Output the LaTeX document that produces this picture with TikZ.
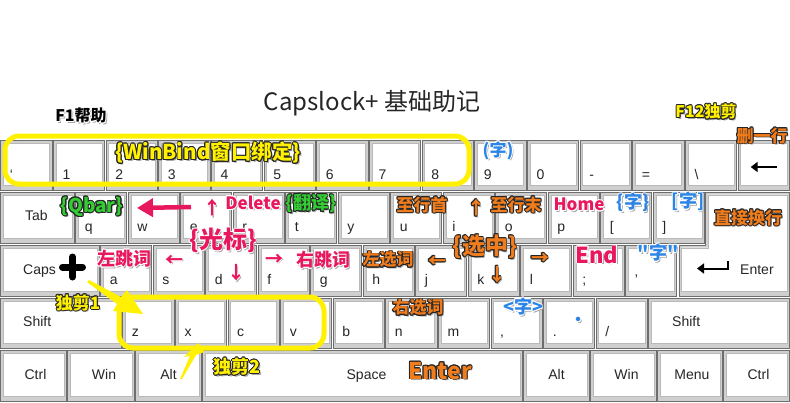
\documentclass[tikz,border=0pt]{standalone}
\usepackage{fontspec}
\setmainfont{Liberation Sans}
\newfontfamily\cjk{Noto Sans CJK SC}
\usetikzlibrary{arrows.meta,calc,positioning}

\definecolor{hlyellow}{HTML}{FFF100}
\definecolor{notered}{HTML}{E8185E}
\definecolor{noteorange}{HTML}{F07C1C}
\definecolor{notegreen}{HTML}{33CC33}
\definecolor{noteblue}{HTML}{2C84E6}
\definecolor{keyedge}{HTML}{6E6E6E}
\definecolor{keyrim}{HTML}{CFCFCF}

% text with a ring round it and a soft shadow
\newcommand\halo[3]{%
  \leavevmode
  \rlap{\kern1.6pt\raisebox{-1.6pt}{\textcolor{black!35}{#3}}}%
  \foreach \haloang in {0,30,...,330}{%
    \pgfmathsetlengthmacro\halox{0.9pt*cos(\haloang)}%
    \pgfmathsetlengthmacro\haloy{0.9pt*sin(\haloang)}%
    \rlap{\kern\halox\raisebox{\haloy}{\textcolor{#1}{#3}}}}%
  \textcolor{#2}{#3}}
\newcommand\darkring[2]{\halo{black!85}{#1}{#2}}
\newcommand\whitering[2]{\halo{white}{#1}{#2}}

% one key: name, left, top, right, bottom
\newcommand\keyat[5]{%
  \node[keycap, minimum width={(#4-#2-1.5)*1pt}, minimum height={(#5-#3-1.5)*1pt}]
    (#1) at ({(#2+#4)/2},{(#3+#5)/2}) {};}

\tikzset{
  keycap/.style={draw=keyedge, fill=keyrim, line width=0.6pt, inner sep=0pt, outer sep=0pt,
    path picture={\draw[fill=white, draw=gray!55, line width=0.4pt]
      ([shift={(2.5pt,5pt)}]path picture bounding box.south west) rectangle
      ([shift={(-2.5pt,-2pt)}]path picture bounding box.north east);}},
  keylbl/.style={font=\fontsize{14}{14}\selectfont, text=black!85, inner sep=0pt},
  note/.style={inner sep=0pt, font=\cjk\bfseries\fontsize{#1}{#1}\selectfont},
  note/.default=17,
  hlbox/.style={draw=hlyellow, line width=5pt, rounded corners=14pt},
}

\begin{document}
\begin{tikzpicture}[x=1pt,y=-1pt,>=Latex]
  \fill[white] (0,0) rectangle (790,402);
  \useasboundingbox (0,0) rectangle (790,402);

  % Title
  \node[font=\cjk\fontsize{24}{24}\selectfont, text=black!85] (title) at (372,103) {Capslock+ 基础助记};

  % Row 1
  \foreach \k [count=\i from 0] in {`,1,2,3,4,5,6,7,8,9,0,-,=,\textbackslash}{
    \pgfmathsetmacro\xl{\i*52.67}
    \pgfmathsetmacro\xr{\xl+52.67}
    \keyat{r1-\i}{\xl}{140}{\xr}{191}
    \node[keylbl, anchor=base west] (r1l-\i) at ([shift={(9pt,11pt)}]r1-\i.south west) {\k};
  }
  \keyat{bksp}{737.4}{140}{790}{191}
  \draw[line width=2.2pt, -{Triangle[length=7pt,width=10pt]}] ($(bksp.center)+(13,1.5)$) -- ($(bksp.center)+(-13,1.5)$);

  % Row 2
  \keyat{tab}{0}{192}{75}{244}
  \node[keylbl, anchor=base west] (tabl) at (25,220) {Tab};
  \foreach \k [count=\i from 0] in {q,w,e,r,t,y,u,i,o,p,{[},{]}}{
    \pgfmathsetmacro\xl{75+\i*52.5}
    \pgfmathsetmacro\xr{\xl+52.5}
    \keyat{r2-\i}{\xl}{192}{\xr}{244}
    \node[keylbl, anchor=base west] (r2l-\i) at ([shift={(9pt,11.5pt)}]r2-\i.south west) {\k};
  }

  % Row 3
  \keyat{caps}{0}{245}{100}{297}
  \node[keylbl, anchor=base west] (capsl) at (23,274) {Caps};
  \draw[line width=7pt, line cap=round] (72.5,257) -- (72.5,277) (62.5,267) -- (82.5,267);
  \foreach \k [count=\i from 0] in {a,s,d,f,g,h,j,k,l,;,'}{
    \pgfmathsetmacro\xl{100+\i*52.5}
    \pgfmathsetmacro\xr{\xl+52.5}
    \keyat{r3-\i}{\xl}{245}{\xr}{297}
    \node[keylbl, anchor=base west] (r3l-\i) at ([shift={(9pt,11.5pt)}]r3-\i.south west) {\k};
  }
  % Enter
  \draw[draw=keyedge, fill=keyrim, line width=0.6pt] (705.5,192.7) -- (789.7,192.7) -- (789.7,296.3)
    -- (678.9,296.3) -- (678.9,245.7) -- (705.5,245.7) -- cycle;
  \draw[fill=white, draw=gray!55, line width=0.4pt] (708,194.7) -- (787.2,194.7) -- (787.2,291.3)
    -- (681.4,291.3) -- (681.4,247.7) -- (708,247.7) -- cycle;
  \node[keylbl, anchor=base west] (entl) at (740,274) {Enter};
  \draw[line width=2pt, -{Triangle[length=7pt,width=10pt]}] (728,261) -- (728,268.5) -- (697,268.5);

  % Row 4
  \keyat{lshift}{0}{298}{122}{349}
  \node[keylbl, anchor=base west] (lshiftl) at (23,326) {Shift};
  \foreach \k [count=\i from 0] in {z,x,c,v,b,n,m,{,},.,/}{
    \pgfmathsetmacro\xl{122+\i*52.6}
    \pgfmathsetmacro\xr{\xl+52.6}
    \keyat{r4-\i}{\xl}{298}{\xr}{349}
    \node[keylbl, anchor=base west] (r4l-\i) at ([shift={(9pt,11.5pt)}]r4-\i.south west) {\k};
  }
  \keyat{rshift}{648}{298}{790}{349}
  \node[keylbl, anchor=base west] (rshiftl) at (672,326) {Shift};

  % Row 5
  \foreach \k/\xl/\xr/\dx [count=\i] in {Ctrl/0/67/2,Win/67/135/3,Alt/135/202/0,Space/202/523/4,
      Alt/523/590/0,Win/590/657/3,Menu/657/723/2,Ctrl/723/790/2}{
    \keyat{r5-\i}{\xl}{350}{\xr}{402}
    \node[keylbl, anchor=base] (r5l-\i) at ([shift={(\dx pt,-3pt)}]r5-\i.center) {\k};
  }

  % Highlight boxes and pointers
  \draw[hlbox] (5,136) rectangle (469,184);
  \draw[hlbox] (119,297) rectangle (324,348);
  \fill[hlyellow] (87,282) -- (89,280) -- (121,297) -- (127,290) -- (143,314) -- (113,311) -- (117,304) -- cycle;
  \fill[hlyellow] (180,379) -- (182,379) -- (196,355) -- (204,352) -- (198,343) -- (184,357) -- (190,356) -- cycle;

  % Notes, top
  \node[note=16] (f1) at (81,116) {\whitering{black}{F1帮助}};
  \node[note=16] (f12) at (706,112) {\darkring{hlyellow}{F12独剪}};
  \node[note] (delline) at (762,136) {\darkring{noteorange}{删一行}};
  \node[note=20.5] (winbind) at (208,153) {\darkring{hlyellow}{\{WinBind窗口绑定\}}};
  \node[note] (paren) at (498,151) {\whitering{noteblue}{(字)}};

  % Notes, cursor
  \node[note=19] (qbar) at (92,207) {\darkring{notegreen}{\{Qbar\}}};
  \coordinate (qbartail) at (191,207);
  \coordinate (qbartip) at (137,208);
  \draw[notered, line width=4.5pt, -{Triangle[length=16pt,width=18pt]}] (qbartail) -- (qbartip);
  \node[note=18] (curup) at (212,208) {\whitering{notered}{↑}};
  \node[note] (del) at (253,203) {\whitering{notered}{Delete}};
  \node[note=18] (trans) at (311,204) {\darkring{notegreen}{\{翻译\}}};
  \node[note=24] (cursor) at (223,241) {\whitering{notered}{\{光标\}}};
  \node[note=18] (wleft) at (124,259) {\whitering{notered}{左跳词}};
  \node[note=18] (curleft) at (174,261) {\whitering{notered}{←}};
  \node[note=18] (curdown) at (236,273) {\whitering{notered}{↓}};
  \node[note=18] (curright) at (274,260) {\whitering{notered}{→}};
  \node[note=18] (wright) at (323,260) {\whitering{notered}{右跳词}};
  \node[note] (cut1) at (78,303) {\darkring{hlyellow}{独剪1}};
  \node[note=18] (cut2) at (237,367) {\darkring{hlyellow}{独剪2}};

  % Notes, selection
  \node[note] (lhome) at (422,205) {\darkring{noteorange}{至行首}};
  \node[note=18] (selup) at (476,208) {\darkring{noteorange}{↑}};
  \node[note] (lend) at (516,205) {\darkring{noteorange}{至行末}};
  \node[note] (home) at (579,205) {\whitering{notered}{Home}};
  \node[note=18] (brace) at (633,203) {\whitering{noteblue}{\{字\}}};
  \node[note=18] (brack) at (688,202) {\whitering{noteblue}{[字]}};
  \node[note] (newline) at (748,218) {\darkring{noteorange}{直接换行}};
  \node[note] (sleft) at (388,260) {\darkring{noteorange}{左选词}};
  \node[note=18] (selleft) at (437,262) {\darkring{noteorange}{←}};
  \node[note=23] (select) at (485,247) {\darkring{noteorange}{\{选中\}}};
  \node[note=18] (seldown) at (497,275) {\darkring{noteorange}{↓}};
  \node[note=18] (selright) at (540,259) {\darkring{noteorange}{→}};
  \node[note=22] (end) at (597,255) {\whitering{notered}{End}};
  \node[note=18] (quote) at (658,253) {\whitering{noteblue}{"字"}};
  \node[note] (sright) at (418,308) {\darkring{noteorange}{右选词}};
  \node[note=18] (angle) at (523,307) {\whitering{noteblue}{<字>}};
  \node[note=16] (dot) at (578,322) {\whitering{noteblue}{•}};
  \node[note=23] (enter) at (440,371) {\darkring{noteorange}{Enter}};
\end{tikzpicture}
\end{document}
